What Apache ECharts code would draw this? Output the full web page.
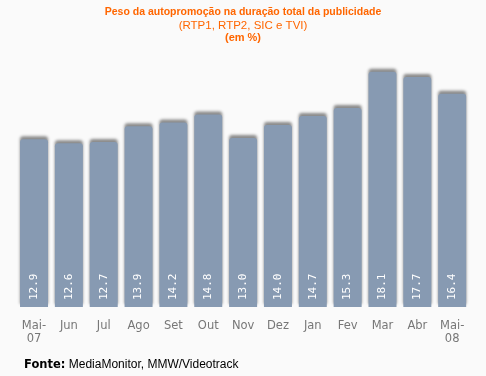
<!DOCTYPE html>
<html>
<head>
<meta charset="utf-8">
<script src="https://cdn.jsdelivr.net/npm/echarts@6/dist/echarts.min.js"></script>
<style>
  html, body { margin: 0; padding: 0; background: #fafafa; }
  #chart { width: 486px; height: 376px; }
</style>
</head>
<body>
<div id="chart"></div>
<script>
// meses (mai 2007 a mai 2008)
const months = ['Mai-\n07', 'Jun', 'Jul', 'Ago', 'Set', 'Out', 'Nov', 'Dez', 'Jan', 'Fev', 'Mar', 'Abr', 'Mai-\n08'];
// peso da autopromoção, em %
const peso = [12.9, 12.6, 12.7, 13.9, 14.2, 14.8, 13.0, 14.0, 14.7, 15.3, 18.1, 17.7, 16.4];

const chart = echarts.init(document.getElementById('chart'));
chart.setOption({
  backgroundColor: '#fafafa',
  animation: false,
  title: {
    left: 'center',
    top: 0,
    text: '{a|Peso da autopromoção na duração total da publicidade}\n{b|(RTP1, RTP2, SIC e TVI)}\n{c|(em %)}',
    textStyle: {
      fontWeight: 'normal',
      rich: {
        a: { color: '#ff6600', fontSize: 10.5, fontWeight: 'bold', fontFamily: 'Liberation Sans', lineHeight: 14, align: 'center' },
        b: { color: '#ff6600', fontSize: 11.5, fontWeight: 'normal', fontFamily: 'Liberation Sans', lineHeight: 13, align: 'center' },
        c: { color: '#ff6600', fontSize: 11, fontWeight: 'bold', fontFamily: 'Liberation Sans', lineHeight: 12, align: 'center' }
      }
    }
  },
  graphic: [{
    type: 'text',
    left: 24,
    top: 359,
    style: {
      text: '{b|Fonte:} {n|MediaMonitor, MMW/Videotrack}',
      rich: {
        b: { fontWeight: 'bold', fontSize: 11.5, fontFamily: 'DejaVu Sans', fill: '#000' },
        n: { fontSize: 12, fontFamily: 'Liberation Sans', fill: '#000' }
      }
    }
  }],
  grid: { left: 16.6, right: 16.4, top: 47, bottom: 69 },
  xAxis: {
    type: 'category',
    data: months,
    axisLine: { show: false },
    axisTick: { show: false },
    axisLabel: {
      interval: 0,
      color: '#777',
      fontSize: 11.5,
      fontFamily: 'DejaVu Sans',
      lineHeight: 13,
      margin: 13
    }
  },
  yAxis: {
    type: 'value',
    min: 0,
    max: 20,
    show: false,
    splitLine: { show: false }
  },
  series: [{
    type: 'bar',
    data: peso,
    barWidth: 28,
    itemStyle: {
      color: '#879ab2',
      borderRadius: [3, 3, 0, 0],
      shadowColor: 'rgba(0,0,0,0.45)',
      shadowBlur: 3,
      shadowOffsetY: -3
    },
    label: {
      show: true,
      position: 'insideBottom',
      rotate: 90,
      align: 'left',
      verticalAlign: 'middle',
      distance: 7,
      color: '#fff',
      fontSize: 11,
      fontFamily: 'DejaVu Sans Mono',
      formatter: p => p.value.toFixed(1)
    }
  }]
});
</script>
</body>
</html>
